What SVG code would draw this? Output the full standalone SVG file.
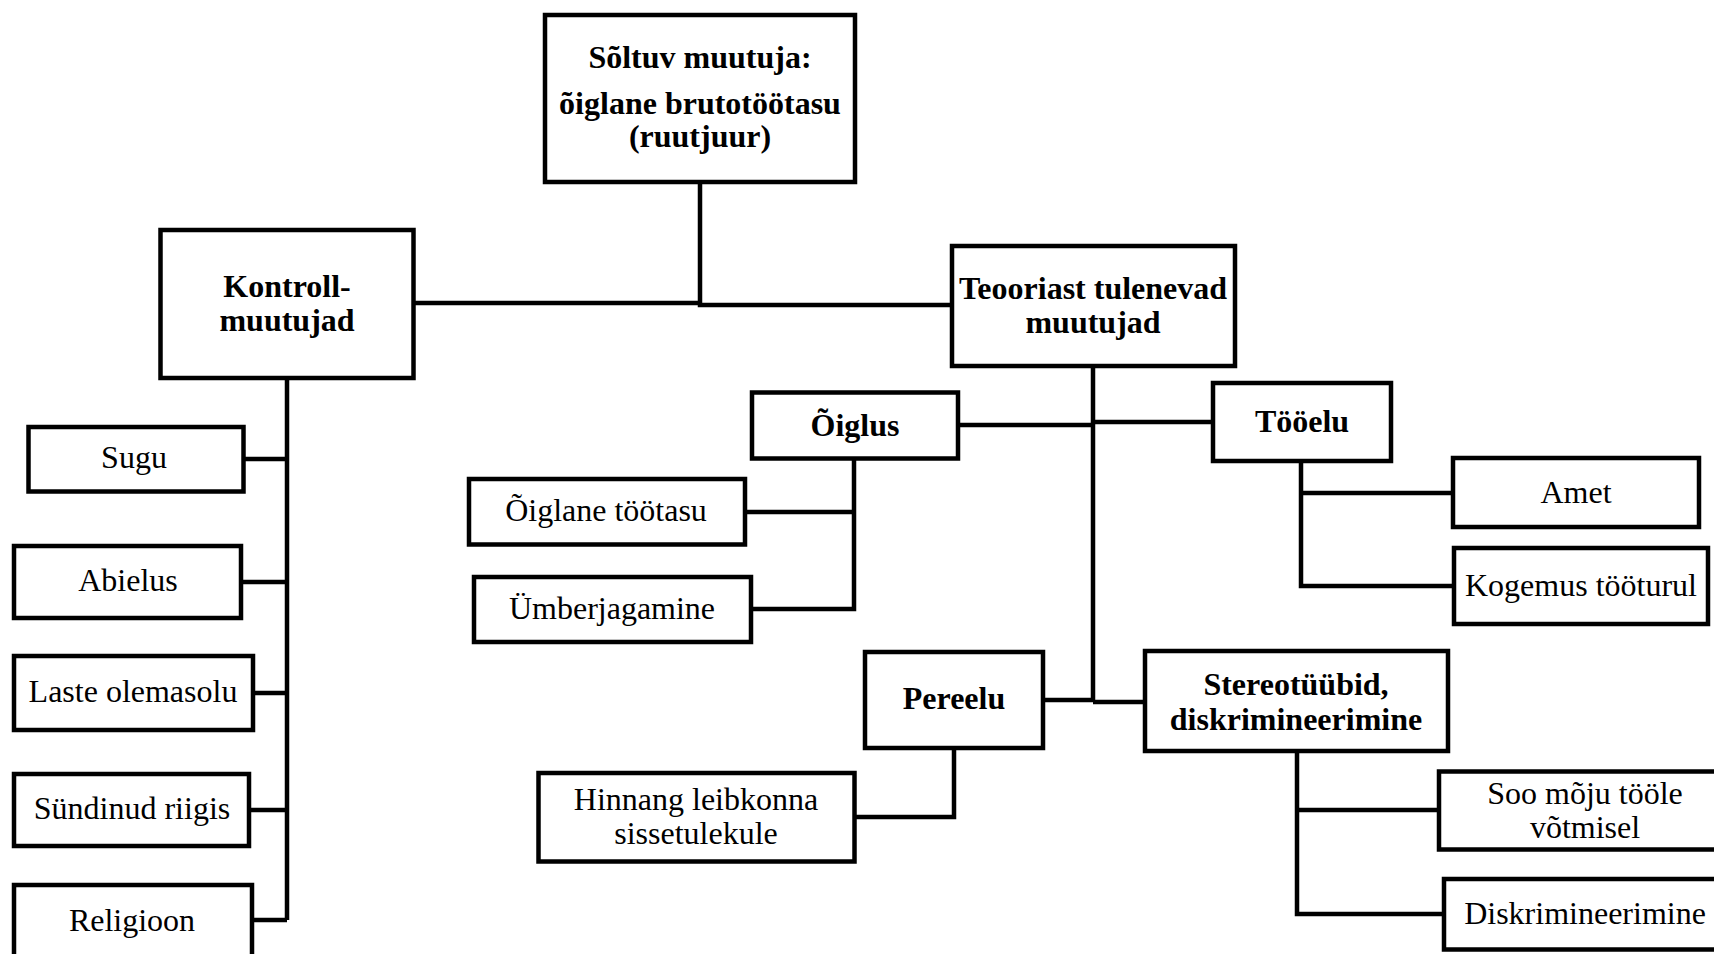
<svg xmlns="http://www.w3.org/2000/svg" width="1714" height="954" viewBox="0 0 1714 954">
<style>
rect{fill:#fff;stroke:#000;stroke-width:4.5}
.c path{fill:none;stroke:#000;stroke-width:4.5}
text{font-family:"Liberation Serif","Times New Roman",serif;font-size:32px;fill:#000;text-anchor:middle}
.b{font-weight:bold}
</style>
<rect x="0" y="0" width="1714" height="954" style="stroke:none"/>
<g class="c" id="connectors">
<path d="M413,303 H700 M700,182 V305 H952"/>
<path d="M287,378 V920 M243,459 H287 M241,582 H287 M253,693 H287 M249,810 H287 M252,920 H287"/>
<path d="M1093,366 V702 M958,425 H1093 M1093,422 H1213 M1043,700 H1093 M1093,702 H1145"/>
<path d="M1301,461 V586 H1454 M1301,493 H1453"/>
<path d="M854,459 V609 H751 M745,512 H854"/>
<path d="M954,748 V817 H855"/>
<path d="M1297,751 V914 H1444 M1297,810 H1439"/>
</g>
<g id="n-top"><rect x="545" y="15" width="310" height="167"/>
<text class="b" x="700" y="68">Sõltuv muutuja:</text>
<text class="b" x="700" y="114">õiglane brutotöötasu</text>
<text class="b" x="700" y="147">(ruutjuur)</text></g>
<g id="n-kontroll"><rect x="160.5" y="230" width="253" height="148"/>
<text class="b" x="287" y="297">Kontroll-</text>
<text class="b" x="287" y="331">muutujad</text></g>
<g id="n-teooria"><rect x="952" y="246" width="283" height="120"/>
<text class="b" x="1093" y="299">Teooriast tulenevad</text>
<text class="b" x="1093" y="333">muutujad</text></g>
<g id="n-oiglus"><rect x="752" y="392.5" width="206" height="66"/>
<text class="b" x="855" y="436">Õiglus</text></g>
<g id="n-tooelu"><rect x="1213" y="383" width="178" height="78"/>
<text class="b" x="1302" y="432">Tööelu</text></g>
<g id="n-amet"><rect x="1453" y="458" width="246" height="69"/>
<text x="1576" y="503">Amet</text></g>
<g id="n-kogemus"><rect x="1454" y="548" width="254" height="76"/>
<text x="1581" y="596">Kogemus tööturul</text></g>
<g id="n-pereelu"><rect x="865" y="652" width="178" height="96"/>
<text class="b" x="954" y="709">Pereelu</text></g>
<g id="n-stereo"><rect x="1145" y="651" width="303" height="100"/>
<text class="b" x="1296" y="695">Stereotüübid,</text>
<text class="b" x="1296" y="730">diskrimineerimine</text></g>
<g id="n-soo"><rect x="1439" y="771.5" width="290" height="78"/>
<text x="1585" y="804">Soo mõju tööle</text>
<text x="1585" y="838">võtmisel</text></g>
<g id="n-diskr"><rect x="1444" y="879" width="290" height="70.5"/>
<text x="1585" y="924">Diskrimineerimine</text></g>
<g id="n-oiglanetootasu"><rect x="469" y="479" width="276" height="65.5"/>
<text x="606" y="521">Õiglane töötasu</text></g>
<g id="n-umberjagamine"><rect x="474" y="577" width="277" height="65"/>
<text x="612" y="619">Ümberjagamine</text></g>
<g id="n-hinnang"><rect x="538.5" y="773" width="316" height="88.5"/>
<text x="696" y="810">Hinnang leibkonna</text>
<text x="696" y="844">sissetulekule</text></g>
<g id="n-sugu"><rect x="28.5" y="427" width="215" height="64.5"/>
<text x="134" y="468">Sugu</text></g>
<g id="n-abielus"><rect x="14" y="546" width="227" height="72"/>
<text x="128" y="591">Abielus</text></g>
<g id="n-laste"><rect x="14" y="656" width="239" height="74"/>
<text x="133" y="702">Laste olemasolu</text></g>
<g id="n-syndinud"><rect x="14" y="774" width="235" height="72"/>
<text x="132" y="819">Sündinud riigis</text></g>
<g id="n-religioon"><rect x="14" y="885" width="238" height="100"/>
<text x="132" y="931">Religioon</text></g>
</svg>
